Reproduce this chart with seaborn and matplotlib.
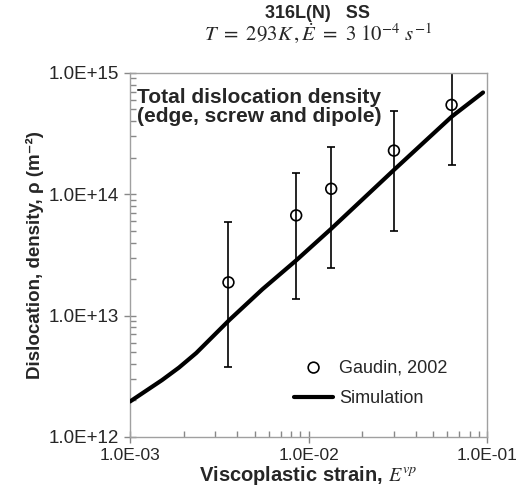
import numpy as np
import pandas as pd
import matplotlib
matplotlib.use("Agg")
import matplotlib.pyplot as plt
import matplotlib.ticker as mticker
import seaborn as sns

# experimental data (Gaudin, 2002)
exp_strain = [3.56e-3, 8.53e-3, 1.34e-2, 3.01e-2, 6.33e-2]
exp_rho = [1.88e13, 6.7e13, 1.11e14, 2.29e14, 5.45e14]
exp_rho_low = [3.8e12, 1.38e13, 2.47e13, 5.0e13, 1.75e14]
exp_rho_high = [5.9e13, 1.49e14, 2.47e14, 4.89e14, 1.2e15]

# simulation curve
sim_strain = [1.0e-3, 1.51e-3, 1.88e-3, 2.35e-3, 3.6e-3, 5.52e-3, 8.57e-3,
              1.35e-2, 3.0e-2, 6.35e-2, 9.5e-2]
sim_rho = [1.96e12, 2.94e12, 3.73e12, 4.92e12, 9.2e12, 1.65e13, 2.87e13,
           5.25e13, 1.58e14, 4.37e14, 6.9e14]

sns.set_theme(style="white")
plt.rcParams["font.family"] = ["Liberation Sans", "DejaVu Sans"]
plt.rcParams["mathtext.fontset"] = "stix"

fig = plt.figure(figsize=(5.17, 4.96), dpi=100)
ax = fig.add_axes([0.2515, 0.119, 0.6905, 0.734])

sim = pd.DataFrame({"strain": sim_strain, "rho": sim_rho})
sns.lineplot(data=sim, x="strain", y="rho", ax=ax, color="black", lw=3,
             label="Simulation", zorder=3)

yerr = [np.array(exp_rho) - np.array(exp_rho_low), np.array(exp_rho_high) - np.array(exp_rho)]
ax.errorbar(exp_strain, exp_rho, yerr=yerr, fmt="none", ecolor="black",
            elinewidth=1.2, capsize=3, capthick=1.2, zorder=2)
sns.scatterplot(x=exp_strain, y=exp_rho, ax=ax, marker="o", s=60,
                facecolor="none", edgecolor="black", linewidth=1.2,
                label="Gaudin, 2002", zorder=4)

ax.set_xscale("log")
ax.set_yscale("log")
ax.set_xlim(1e-3, 1e-1)
ax.set_ylim(1e12, 1e15)

fmt = mticker.FuncFormatter(lambda v, p: f"{v:.1E}")
ax.xaxis.set_major_formatter(fmt)
ax.yaxis.set_major_formatter(fmt)
ax.xaxis.set_minor_formatter(mticker.NullFormatter())
ax.yaxis.set_minor_formatter(mticker.NullFormatter())
ax.xaxis.set_major_locator(mticker.LogLocator(base=10, numticks=10))
ax.yaxis.set_major_locator(mticker.LogLocator(base=10, numticks=10))
ax.xaxis.set_minor_locator(mticker.LogLocator(base=10, subs=np.arange(2, 10), numticks=10))
ax.yaxis.set_minor_locator(mticker.LogLocator(base=10, subs=np.arange(2, 10), numticks=10))

ax.tick_params(which="major", direction="inout", length=8, width=1, color="#888888",
               pad=4, bottom=True, left=True)
ax.tick_params(which="minor", direction="in", length=4, width=1, color="#888888",
               bottom=True, left=True)
ax.tick_params(axis="x", which="major", labelsize=12.5)
ax.tick_params(axis="y", which="major", labelsize=13.5)
for s in ax.spines.values():
    s.set_color("#a0a0a0")
    s.set_linewidth(1)

ax.set_xlabel("Viscoplastic strain, $\\mathit{E^{vp}}$", fontsize=14.5,
              fontweight="bold", labelpad=1)
ax.set_ylabel("Dislocation, density, ρ (m⁻²)", fontsize=13.5, fontweight="bold",
              labelpad=3)

ax.text(0.02, 0.958, "Total dislocation density\n(edge, screw and dipole)",
        transform=ax.transAxes, fontsize=15, fontweight="bold", va="top",
        ha="left", linespacing=1.0)

handles, labels = ax.get_legend_handles_labels()
order = [labels.index("Gaudin, 2002"), labels.index("Simulation")]
ax.legend([handles[i] for i in order], [labels[i] for i in order],
          loc="center left", bbox_to_anchor=(0.413, 0.148), frameon=False,
          fontsize=13, handlelength=2.2, handletextpad=0.3, labelspacing=0.75)

fig.text(0.615, 0.964, "316L(N)   SS", ha="center", va="baseline", fontsize=13,
         fontweight="bold")
fig.text(0.615, 0.919, r"$T\ =\ 293K\,,\dot{E}\ =\ 3\ 10^{-4}\ s^{-1}$",
         ha="center", va="baseline", fontsize=15)

fig.savefig("out.png", dpi=100)
